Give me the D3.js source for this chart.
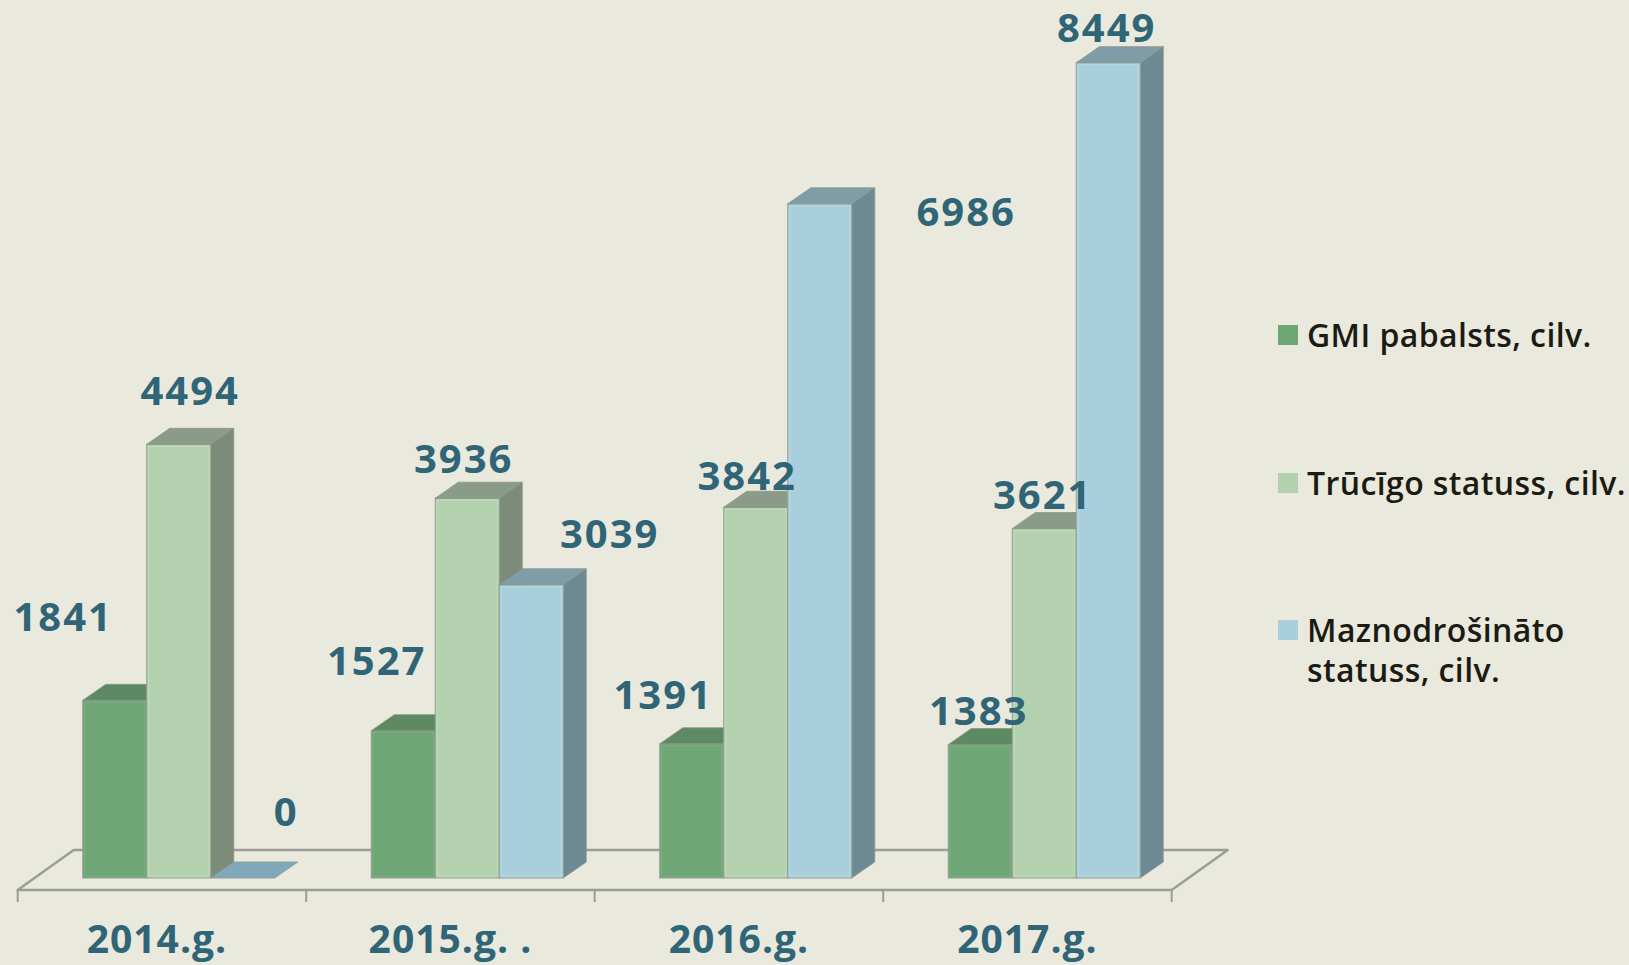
<!DOCTYPE html>
<html><head><meta charset="utf-8">
<script src="https://cdn.jsdelivr.net/npm/d3@7/dist/d3.min.js"></script>
<style>
html,body{margin:0;padding:0;background:#eae9de;}
svg{display:block;}
</style></head>
<body>
<svg id="chart" width="1629" height="965"></svg>
<script>
// ---- data ----
const categories = ["2014.g.", "2015.g. .", "2016.g.", "2017.g."];
const seriesNames = ["GMI pabalsts, cilv.", "Trūcīgo statuss, cilv.", "Maznodrošināto statuss, cilv."];
const gmi = [1841, 1527, 1391, 1383];
const trucigo = [4494, 3936, 3842, 3621];
const maznodr = [0, 3039, 6986, 8449];
const legendLines = [["GMI pabalsts, cilv."], ["Trūcīgo statuss, cilv."], ["Maznodrošināto", "statuss, cilv."]];

// ---- layout / style (not data) ----
const W = 1629, H = 965;
const floorFrontY = 890, floorBackY = 850, floorLeft = 17.7, floorRight = 1171.7;
const floorDX = 56, floorDY = 40;
const barDX = 23, barDY = 16;
const inset = (floorDY - barDY) / 2;           // 12
const baseY = floorFrontY - inset;             // 878
const groupWidth = 192;
const faceCols = [
  {front: "#6ea676", top: "#5e8a63", side: "#587d5d", edge: "#7fb487"},
  {front: "#b3d1af", top: "#8a9b88", side: "#7c8b7a", edge: "#c4dfc0"},
  {front: "#a9cfdc", top: "#7f9da6", side: "#6c8994", edge: "#bcdde7"}
];
// label nudges relative to the top-face centre [dx, dy] per series, per category
const labelNudge = [
  [[-63, -61], [-38, -48], [-40, -27], [-13, -12]],
  [[0, -31], [-15, -17], [-20, -9], [-13, -12]],
  [[32, -44], [67, -29], [135, 30], [-13, -13]]
];
const valueColor = "#2f6576";

const seriesValues = [gmi, trucigo, maznodr];

const svg = d3.select("#chart");
svg.append("rect").attr("width", W).attr("height", H).attr("fill", "#eae9de");

const x0 = d3.scaleBand().domain(categories).range([floorLeft, floorRight]).paddingInner(0).paddingOuter(0);
const x1 = d3.scaleBand().domain(d3.range(seriesNames.length)).range([0, groupWidth]);
const y = d3.scaleLinear().domain([0, 9000]).range([baseY, baseY - 9000 * 0.0965]);

// floor
const floorG = svg.append("g");
floorG.append("path")
  .attr("d", `M${floorLeft},${floorFrontY} L${floorLeft + floorDX},${floorBackY} L${floorRight + floorDX},${floorBackY} L${floorRight},${floorFrontY} Z`)
  .attr("fill", "none").attr("stroke", "#9d9d98").attr("stroke-width", 2.5).attr("stroke-linejoin", "round");
const tickXs = categories.map(c => x0(c)).concat([floorRight]);
floorG.selectAll("line.tick").data(tickXs).join("line")
  .attr("x1", d => d).attr("x2", d => d)
  .attr("y1", floorFrontY).attr("y2", floorFrontY + 12)
  .attr("stroke", "#9d9d98").attr("stroke-width", 2);

// bars
const barsG = svg.append("g");
categories.forEach((cat, ci) => {
  const gx = x0(cat) + inset * (floorDX / floorDY) + (x0.bandwidth() - groupWidth) / 2;
  seriesValues.forEach((vals, si) => {
    const v = vals[ci];
    const xl = gx + x1(si), xr = xl + x1.bandwidth();
    const yt = y(v), yb = y(0);
    const c = faceCols[si];
    const g = barsG.append("g");
    if (v > 0) {
      g.append("path")
        .attr("d", `M${xr},${yt} L${xr + barDX},${yt - barDY} L${xr + barDX},${yb - barDY} L${xr},${yb} Z`)
        .attr("fill", c.side).attr("stroke", "#8d948a").attr("stroke-width", 0.8);
      g.append("rect").attr("x", xl).attr("y", yt).attr("width", xr - xl).attr("height", yb - yt)
        .attr("fill", c.front).attr("stroke", "#93a091").attr("stroke-width", 1);
      g.append("rect").attr("x", xl + 2).attr("y", yt + 2).attr("width", xr - xl - 4).attr("height", yb - yt - 4)
        .attr("fill", "none").attr("stroke", c.edge).attr("stroke-width", 1.2).attr("opacity", 0.6);
    }
    g.append("path")
      .attr("d", `M${xl},${yt} L${xl + barDX},${yt - barDY} L${xr + barDX},${yt - barDY} L${xr},${yt} Z`)
      .attr("fill", v > 0 ? c.top : "#7fa9ba").attr("stroke", "#8d948a").attr("stroke-width", 0.8);
  });
});

// value labels
const labelG = svg.append("g");
categories.forEach((cat, ci) => {
  const gx = x0(cat) + inset * (floorDX / floorDY) + (x0.bandwidth() - groupWidth) / 2;
  seriesValues.forEach((vals, si) => {
    const v = vals[ci];
    const cx = gx + x1(si) + x1.bandwidth() / 2 + barDX / 2;
    const cy = y(v) - barDY / 2;
    const n = labelNudge[si][ci];
    labelG.append("text")
      .attr("x", cx + n[0]).attr("y", cy + n[1])
      .attr("text-anchor", "middle")
      .attr("font-family", "'Open Sans', sans-serif").attr("font-weight", 700)
      .attr("font-size", 40).attr("letter-spacing", 2)
      .attr("fill", valueColor)
      .text(v);
  });
});

// category labels
svg.append("g").selectAll("text").data(categories).join("text")
  .attr("x", (d, i) => x0(d) + x0.bandwidth() / 2 + (i === 0 ? -5 : 0))
  .attr("y", 953)
  .attr("text-anchor", "middle")
  .attr("font-family", "'Open Sans', sans-serif").attr("font-weight", 700)
  .attr("font-size", 39).attr("letter-spacing", 1)
  .attr("fill", valueColor)
  .text(d => d);

// legend
const legendY = [347, 495, 642];
const legG = svg.append("g");
legendLines.forEach((lines, i) => {
  legG.append("rect").attr("x", 1278).attr("y", legendY[i] - 22).attr("width", 20).attr("height", 20)
    .attr("fill", faceCols[i].front);
  const t = legG.append("text").attr("x", 1307).attr("y", legendY[i])
    .attr("font-family", "'Open Sans', sans-serif").attr("font-size", 32).attr("font-weight", 600)
    .attr("letter-spacing", 0.4)
    .attr("fill", "#1b1b14");
  lines.forEach((ln, k) => {
    t.append("tspan").attr("x", 1307).attr("dy", k === 0 ? 0 : 40).text(ln);
  });
});
</script>
</body></html>
